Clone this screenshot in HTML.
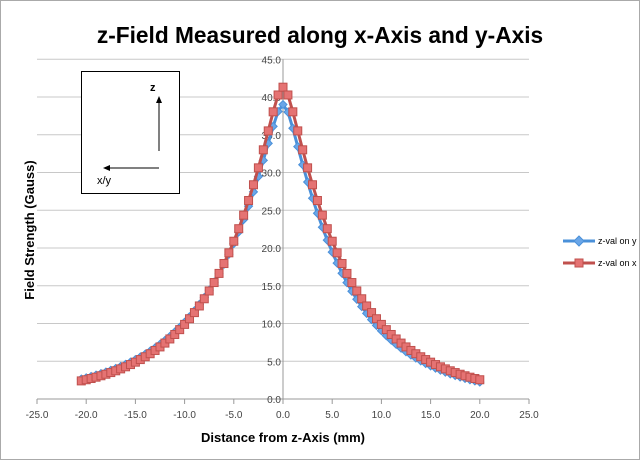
<!DOCTYPE html>
<html><head><style>body{margin:0;background:#fff}svg{display:block}</style></head><body>
<svg id="s" width="640" height="460" xmlns="http://www.w3.org/2000/svg" font-family="Liberation Sans, sans-serif">
<rect x="0.5" y="0.5" width="639" height="459" fill="#fff" stroke="#aaa"/>
<text x="320" y="43" text-anchor="middle" font-size="22.7" font-weight="bold">z-Field Measured along x-Axis and y-Axis</text>
<g id="grid" stroke="#c8c8c8" stroke-width="1"></g>
<g id="lab" font-size="10" fill="#444"></g>
<text x="283" y="442" text-anchor="middle" font-size="13" font-weight="bold">Distance from z-Axis (mm)</text>
<text transform="translate(34,230) rotate(-90)" text-anchor="middle" font-size="13" font-weight="bold">Field Strength (Gauss)</text>
<rect x="81.5" y="71.5" width="98" height="122" fill="#fff" stroke="#000"/>
<line x1="159" y1="151" x2="159" y2="101" stroke="#000"/>
<polygon points="159,96 156,103 162,103" fill="#000"/>
<line x1="159" y1="168" x2="108" y2="168" stroke="#000"/>
<polygon points="103,168 110,165 110,171" fill="#000"/>
<text x="150" y="91" font-size="11" font-weight="bold">z</text>
<text x="97" y="184" font-size="11">x/y</text>
<g id="data"></g>
<line x1="563" y1="241" x2="595" y2="241" stroke="#4a90d9" stroke-width="3"/>
<polygon points="579,236 584,241 579,246 574,241" fill="#6aa6e8" stroke="#4a90d9"/>
<text x="598" y="244" font-size="9">z-val on y</text>
<line x1="563" y1="263" x2="595" y2="263" stroke="#c0504d" stroke-width="3"/>
<rect x="575" y="259" width="8" height="8" fill="#e57373" stroke="#c0504d"/>
<text x="598" y="266" font-size="9">z-val on x</text>
</svg>
<script>
var NS="http://www.w3.org/2000/svg";
function X(v){return 283+v*9.84}function Y(v){return 399-v*7.55}
function el(p,t,a,txt){var e=document.createElementNS(NS,t);for(var k in a)e.setAttribute(k,a[k]);if(txt!=null)e.textContent=txt;document.getElementById(p).appendChild(e);return e}
for(var i=0;i<=9;i++){var v=i*5;if(i>0)el("grid","line",{x1:37,x2:529,y1:Y(v),y2:Y(v)});el("lab","text",{x:281,y:Y(v)+4,"text-anchor":"end"},v.toFixed(1))}
el("grid","line",{x1:37,x2:529,y1:Y(0),y2:Y(0),stroke:"#999"});
el("grid","line",{x1:283,x2:283,y1:Y(45),y2:Y(0),stroke:"#999"});
for(var i=-5;i<=5;i++){var v=i*5;el("grid","line",{x1:X(v),x2:X(v),y1:Y(0),y2:Y(0)+5,stroke:"#999"});el("lab","text",{x:X(v),y:418,"text-anchor":"middle"},v.toFixed(1))}
function f(x,A,c1,c2){x=Math.sqrt(x*x+0.5)-Math.sqrt(0.5);return A*(0.9*Math.exp(-x/c1)+0.1*Math.exp(-x/c2))}
var b=[],r=[];
for(var x=-20.5;x<=20.01;x+=0.5){
 b.push([X(x),Y(x<0?f(x,39,6.3,16):f(x,39,5.8,14))]);
 r.push([X(x),Y(f(x,41.3,5.9,15))]);}
function line(pts,c){el("data","polyline",{points:pts.map(p=>p.join(",")).join(" "),fill:"none",stroke:c,"stroke-width":3})}
line(b,"#4a90d9");
b.forEach(p=>el("data","polygon",{points:(p[0])+","+(p[1]-4)+" "+(p[0]+4)+","+p[1]+" "+p[0]+","+(p[1]+4)+" "+(p[0]-4)+","+p[1],fill:"#6aa6e8",stroke:"#4a90d9"}));
line(r,"#c0504d");
r.forEach(p=>el("data","rect",{x:p[0]-4,y:p[1]-4,width:8,height:8,fill:"#e57373",stroke:"#c0504d"}));
</script>
</body></html>
